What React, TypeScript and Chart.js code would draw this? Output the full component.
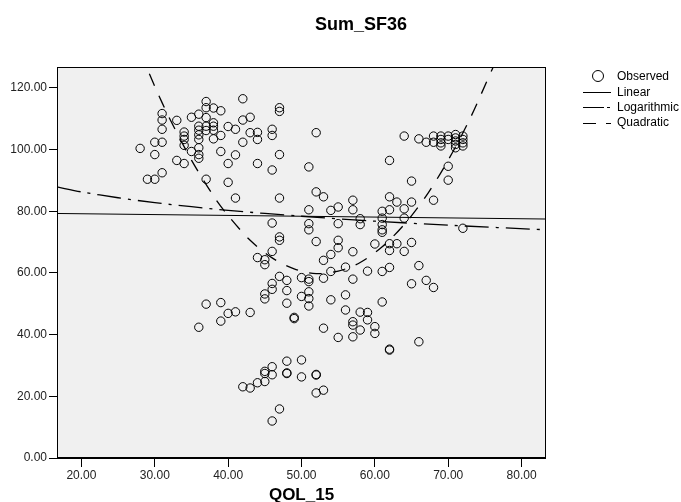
import React, { useEffect, useRef } from "react";
import { Chart, registerables } from "chart.js";

Chart.register(...registerables);

// Observed points: QOL_15 (x) and Sum_SF36 (y)
const qol15 = [
  28,
  29,
  30, 30, 30,
  31, 31, 31, 31, 31,
  33, 33,
  34, 34, 34, 34, 34,
  35, 35,
  36, 36, 36, 36, 36, 36, 36, 36, 36,
  37, 37, 37, 37, 37, 37, 37,
  38, 38, 38, 38, 38,
  39, 39, 39, 39, 39,
  40, 40, 40, 40,
  41, 41, 41, 41,
  42, 42, 42, 42,
  43, 43, 43, 43,
  44, 44, 44, 44, 44,
  45, 45, 45, 45, 45, 45, 45,
  46, 46, 46, 46, 46, 46, 46, 46, 46, 46,
  47, 47, 47, 47, 47, 47, 47, 47,
  48, 48, 48, 48, 48, 48,
  49, 49,
  50, 50, 50, 50,
  51, 51, 51, 51, 51, 51, 51, 51, 51,
  52, 52, 52, 52, 52, 52,
  53, 53, 53, 53, 53,
  54, 54, 54, 54,
  55, 55, 55, 55, 55,
  56, 56, 56,
  57, 57, 57, 57, 57, 57, 57,
  58, 58, 58, 58,
  59, 59, 59,
  60, 60, 60,
  61, 61, 61, 61, 61, 61, 61,
  62, 62, 62, 62, 62, 62, 62, 62,
  63, 63,
  64, 64, 64, 64,
  65, 65, 65, 65,
  66, 66, 66,
  67, 67,
  68, 68, 68, 68,
  69, 69, 69, 69,
  70, 70, 70, 70,
  71, 71, 71, 71, 71,
  72, 72, 72, 72, 72,
];

const sumSF36 = [
  100.4,
  90.4,
  90.4, 102.4, 98.4,
  111.7, 109.6, 106.6, 102.4, 92.5,
  109.5, 96.5,
  105.7, 104.4, 103.3, 101.4, 95.5,
  110.5, 99.4,
  111.5, 107.6, 106.3, 104.8, 103.3, 100.6, 98.4, 97.2, 42.4,
  115.6, 113.6, 110.4, 107.6, 106.2, 90.4, 49.9,
  113.5, 108.7, 107.6, 106.3, 103.5,
  112.6, 104.6, 99.4, 50.4, 44.4,
  107.5, 95.5, 89.4, 46.9,
  106.6, 98.3, 84.3, 47.4,
  116.5, 109.6, 102.4, 23.1,
  110.5, 105.5, 47.2, 22.7,
  105.6, 103.3, 95.5, 65.0, 24.4,
  64.3, 62.7, 53.2, 51.6, 28.1, 27.4, 24.8,
  106.6, 104.6, 93.4, 76.2, 67.0, 56.6, 54.7, 29.6, 27.0, 12.0,
  113.6, 112.4, 98.4, 84.3, 71.7, 70.6, 58.9, 15.9,
  57.6, 54.3, 50.2, 31.4, 27.6, 27.4,
  45.6, 45.2,
  58.5, 52.4, 31.8, 26.3,
  94.4, 80.5, 76.0, 74.0, 58.0, 57.2, 53.9, 51.7, 49.3,
  105.5, 86.3, 70.2, 27.1, 26.9, 21.1,
  84.7, 64.1, 58.3, 42.1, 22.0,
  80.3, 66.0, 60.5, 51.3,
  81.4, 76.0, 70.6, 68.2, 39.1,
  61.9, 52.9, 48.0,
  83.6, 80.5, 66.9, 58.0, 44.2, 43.1, 39.3,
  77.6, 75.7, 47.3, 41.5,
  60.6, 47.2, 44.8,
  69.4, 42.6, 40.4,
  80.0, 77.8, 75.7, 74.0, 73.2, 60.5, 50.6,
  96.5, 84.7, 80.5, 69.5, 67.3, 61.8, 35.3, 35.0,
  83.0, 69.5,
  104.4, 80.8, 77.8, 67.0,
  89.8, 83.0, 69.9, 56.5,
  103.5, 62.4, 37.7,
  102.4, 57.6,
  104.4, 102.4, 83.6, 55.3,
  104.4, 103.3, 102.2, 101.2,
  104.4, 103.3, 94.6, 90.1,
  104.9, 103.8, 102.8, 101.7, 100.6,
  104.4, 103.3, 102.2, 101.2, 74.5,
];

// Fitted curves
const linearX = [16.67, 83.33];
const linearY = [79.3, 77.5];

const logX = [16.67, 20, 25, 30, 35, 40, 50, 60, 70, 83.33];
const logY = [87.9, 86.3, 84.4, 82.8, 81.5, 80.3, 78.4, 76.8, 75.5, 74.0];

const quadX = [28, 30, 32, 35, 38, 40, 43, 46, 49, 52, 55, 58, 61, 64, 67, 70, 73, 76, 77];
const quadY = [131.8, 120.5, 110.2, 96.6, 85.0, 78.6, 70.6, 64.9, 61.3, 59.8, 60.6, 63.4, 68.5, 75.7, 85.0, 96.6, 110.2, 126.1, 131.1];

const xTicks = [20, 30, 40, 50, 60, 70, 80];
const yTicks = [0, 20, 40, 60, 80, 100, 120];
const xRange = [16.67, 83.33];
const yRange = [0, 126.8];

const legendLabels = ["Observed", "Linear", "Logarithmic", "Quadratic"];
const chartTitle = "Sum_SF36";
const xTitle = "QOL_15";

const FONT = "'Liberation Sans', Arial, Helvetica, sans-serif";

export default function App() {
  const ref = useRef<HTMLCanvasElement>(null);

  useEffect(() => {
    const canvas = ref.current;
    if (!canvas) return;
    const toPts = (xs: number[], ys: number[]) => xs.map((x, i) => ({ x, y: ys[i] }));

    const deco = {
      id: "deco",
      beforeDraw(chart: any) {
        const { ctx, chartArea: a } = chart;
        ctx.save();
        ctx.fillStyle = "#ffffff";
        ctx.fillRect(0, 0, chart.width, chart.height);
        ctx.fillStyle = "#f0f0f0";
        ctx.fillRect(a.left, a.top, a.right - a.left, a.bottom - a.top);
        ctx.restore();
      },
      afterDraw(chart: any) {
        const { ctx, chartArea: a } = chart;
        ctx.save();
        // frame
        ctx.strokeStyle = "#000";
        ctx.lineWidth = 1;
        ctx.setLineDash([]);
        ctx.strokeRect(Math.round(a.left) + 0.5, Math.round(a.top) + 0.5, Math.round(a.right - a.left) - 1, Math.round(a.bottom - a.top) - 1);
        ctx.beginPath();
        ctx.moveTo(a.left, Math.round(a.bottom) - 0.5 + 1);
        ctx.lineTo(a.right, Math.round(a.bottom) - 0.5 + 1);
        ctx.stroke();

        // titles
        ctx.fillStyle = "#000";
        ctx.textAlign = "center";
        ctx.textBaseline = "alphabetic";
        ctx.font = `bold 18px ${FONT}`;
        ctx.fillText(chartTitle, 361, 30);
        ctx.font = `bold 17px ${FONT}`;
        ctx.fillText(xTitle, (a.left + a.right) / 2, 500);

        // legend
        ctx.font = `12px ${FONT}`;
        ctx.textAlign = "left";
        ctx.textBaseline = "middle";
        const rows = [76, 92, 107, 122.5];
        const sx0 = 583;
        const sx1 = 611;
        const tx = 617;
        // observed
        ctx.beginPath();
        ctx.arc(598, rows[0], 5.5, 0, Math.PI * 2);
        ctx.stroke();
        const dashes = [[], [], [21, 3, 3, 20], [13, 10, 5, 10]];
        for (let i = 1; i < 4; i++) {
          ctx.setLineDash(dashes[i]);
          ctx.beginPath();
          ctx.moveTo(sx0, Math.round(rows[i]) + 0.5);
          ctx.lineTo(sx1, Math.round(rows[i]) + 0.5);
          ctx.stroke();
        }
        ctx.setLineDash([]);
        legendLabels.forEach((t, i) => ctx.fillText(t, tx, rows[i] + 0.5));
        ctx.restore();
      },
    };

    const tickFont = { family: FONT, size: 12 };

    const chart = new Chart(canvas, {
      type: "scatter",
      data: {
        datasets: [
          {
            type: "scatter",
            label: legendLabels[0],
            data: toPts(qol15, sumSF36),
            pointRadius: 4.2,
            pointBorderWidth: 1,
            pointBorderColor: "#000",
            pointBackgroundColor: "rgba(0,0,0,0)",
            showLine: false,
          },
          {
            type: "line",
            label: legendLabels[1],
            data: toPts(linearX, linearY),
            borderColor: "#000",
            borderWidth: 1,
            pointRadius: 0,
            fill: false,
          },
          {
            type: "line",
            label: legendLabels[2],
            data: toPts(logX, logY),
            borderColor: "#000",
            borderWidth: 1.3,
            borderDash: [24, 7, 3, 7],
            pointRadius: 0,
            tension: 0.3,
            fill: false,
          },
          {
            type: "line",
            label: legendLabels[3],
            data: toPts(quadX, quadY),
            borderColor: "#000",
            borderWidth: 1.3,
            borderDash: [13, 11],
            pointRadius: 0,
            tension: 0.3,
            fill: false,
          },
        ],
      } as any,
      options: {
        responsive: false,
        animation: false,
        events: [],
        layout: { padding: { left: 0, right: 135, top: 67, bottom: 0 } },
        plugins: {
          legend: { display: false },
          tooltip: { enabled: false },
          title: { display: false },
        },
        scales: {
          x: {
            type: "linear",
            min: xRange[0],
            max: xRange[1],
            afterBuildTicks: (s: any) => {
              s.ticks = xTicks.map((v) => ({ value: v }));
            },
            afterFit: (s: any) => {
              s.height = 44;
            },
            grid: { display: true, drawOnChartArea: false, drawTicks: true, tickLength: 9, color: "#000", lineWidth: 1 },
            border: { display: false },
            ticks: {
              font: tickFont,
              color: "#222",
              padding: 1,
              maxRotation: 0,
              autoSkip: false,
              callback: (v: any) => Number(v).toFixed(2),
            },
          },
          y: {
            type: "linear",
            min: yRange[0],
            max: yRange[1],
            afterBuildTicks: (s: any) => {
              s.ticks = yTicks.map((v) => ({ value: v }));
            },
            afterFit: (s: any) => {
              s.width = 57;
            },
            grid: { display: true, drawOnChartArea: false, drawTicks: true, tickLength: 8, color: "#000", lineWidth: 1 },
            border: { display: false },
            ticks: {
              font: tickFont,
              color: "#222",
              padding: 2,
              autoSkip: false,
              callback: (v: any) => Number(v).toFixed(2),
            },
          },
        },
      } as any,
      plugins: [deco],
    });

    return () => chart.destroy();
  }, []);

  return (
    <div style={{ position: "absolute", left: 0, top: 0, width: 681, height: 502, background: "#fff" }}>
      <canvas ref={ref} width={681} height={502} style={{ width: 681, height: 502, display: "block" }} />
    </div>
  );
}
